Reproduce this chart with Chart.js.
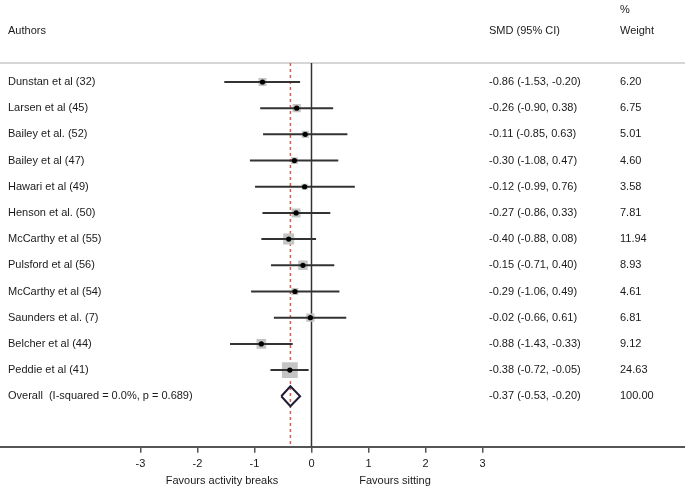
<!DOCTYPE html>
<html>
<head>
<meta charset="utf-8">
<script src="https://cdn.jsdelivr.net/npm/chart.js@4.4.1/dist/chart.umd.min.js"></script>
<style>
  html, body { margin: 0; padding: 0; background: #fff; }
  canvas { display: block; }
</style>
</head>
<body>
<canvas id="forest" width="685" height="489"></canvas>
<script>
// study data
const authors = [
  'Dunstan et al (32)', 'Larsen et al (45)', 'Bailey et al. (52)', 'Bailey et al (47)',
  'Hawari et al (49)', 'Henson et al. (50)', 'McCarthy et al (55)', 'Pulsford et al (56)',
  'McCarthy et al (54)', 'Saunders et al. (7)', 'Belcher et al (44)', 'Peddie et al (41)'
];
const smd = [-0.86, -0.26, -0.11, -0.30, -0.12, -0.27, -0.40, -0.15, -0.29, -0.02, -0.88, -0.38];
const lower = [-1.53, -0.90, -0.85, -1.08, -0.99, -0.86, -0.88, -0.71, -1.06, -0.66, -1.43, -0.72];
const upper = [-0.20, 0.38, 0.63, 0.47, 0.76, 0.33, 0.08, 0.40, 0.49, 0.61, -0.33, -0.05];
const weights = [6.20, 6.75, 5.01, 4.60, 3.58, 7.81, 11.94, 8.93, 4.61, 6.81, 9.12, 24.63];

const overallLabel = 'Overall  (I-squared = 0.0%, p = 0.689)';
const overallSmd = -0.37;
const overallLower = -0.53;
const overallUpper = -0.20;
const overallWeight = 100.00;

const xTicks = [-3, -2, -1, 0, 1, 2, 3];

const FONT = '11px "Liberation Sans", Arial, Helvetica, sans-serif';
const TEXT = '#1a1a1a';
const rows = authors.map((_, i) => i + 1);
const overallRow = authors.length + 1;
const Y_MIN = 0.275, Y_MAX = 14.93;

const fmt = v => v.toFixed(2);

// confidence interval lines, one dataset per study
const ciSets = rows.map((r, i) => ({
  type: 'line',
  data: [{ x: lower[i], y: r }, { x: upper[i], y: r }],
  borderColor: '#333',
  borderWidth: 2,
  pointRadius: 0,
  order: 2
}));

const diamondH = 0.38;

const textPlugin = {
  id: 'forestText',
  beforeDatasetsDraw(chart) {
    const ctx = chart.ctx;
    ctx.save();
    ctx.strokeStyle = '#d6d6d6';
    ctx.lineWidth = 2;
    ctx.beginPath();
    ctx.moveTo(0, chart.chartArea.top);
    ctx.lineTo(chart.width, chart.chartArea.top);
    ctx.stroke();
    ctx.restore();
  },
  afterDraw(chart) {
    const ctx = chart.ctx;
    const y = chart.scales.y;
    ctx.save();
    ctx.font = FONT;
    ctx.fillStyle = TEXT;
    ctx.textBaseline = 'middle';
    ctx.textAlign = 'left';

    // header
    ctx.fillText('Authors', 8, 31);
    ctx.fillText('SMD (95% CI)', 489, 31);
    ctx.fillText('%', 620, 10);
    ctx.fillText('Weight', 620, 31);

    rows.forEach((r, i) => {
      const py = y.getPixelForValue(r);
      ctx.fillText(authors[i], 8, py);
      ctx.fillText(`${fmt(smd[i])} (${fmt(lower[i])}, ${fmt(upper[i])})`, 489, py);
      ctx.fillText(fmt(weights[i]), 620, py);
    });
    const oy = y.getPixelForValue(overallRow);
    ctx.fillText(overallLabel, 8, oy);
    ctx.fillText(`${fmt(overallSmd)} (${fmt(overallLower)}, ${fmt(overallUpper)})`, 489, oy);
    ctx.fillText(fmt(overallWeight), 620, oy);

    // favours labels under the axis
    ctx.textAlign = 'center';
    ctx.fillText('Favours activity breaks', 222, 481);
    ctx.fillText('Favours sitting', 395, 481);
    ctx.restore();
  }
};

new Chart(document.getElementById('forest'), {
  type: 'scatter',
  data: {
    datasets: [
      // null line
      {
        type: 'line',
        data: [{ x: 0, y: Y_MIN }, { x: 0, y: Y_MAX }],
        borderColor: '#333',
        borderWidth: 1.5,
        pointRadius: 0,
        order: 5
      },
      // overall effect, dashed
      {
        type: 'line',
        data: [{ x: overallSmd, y: Y_MIN }, { x: overallSmd, y: Y_MAX }],
        borderColor: '#c0675c',
        borderWidth: 1.5,
        borderDash: [3, 3],
        pointRadius: 0,
        order: 4
      },
      // weight boxes
      {
        data: rows.map((r, i) => ({ x: smd[i], y: r })),
        pointStyle: 'rect',
        pointRadius: weights.map(w => 2.25 * Math.sqrt(w)),
        backgroundColor: '#c4c4c4',
        borderWidth: 0,
        order: 3
      },
      ...ciSets,
      // point estimates
      {
        data: rows.map((r, i) => ({ x: smd[i], y: r })),
        pointRadius: 2.6,
        backgroundColor: '#000',
        borderWidth: 0,
        order: 1
      },
      // pooled diamond
      {
        type: 'line',
        data: [
          { x: overallLower, y: overallRow },
          { x: overallSmd, y: overallRow - diamondH },
          { x: overallUpper, y: overallRow },
          { x: overallSmd, y: overallRow + diamondH },
          { x: overallLower, y: overallRow }
        ],
        borderColor: '#1e1e38',
        borderWidth: 2,
        borderJoinStyle: 'miter',
        pointRadius: 0,
        fill: false,
        order: 0
      }
    ]
  },
  options: {
    responsive: false,
    animation: false,
    layout: { autoPadding: false, padding: { top: 63, left: 0, right: 0, bottom: 13 } },
    plugins: { legend: { display: false }, tooltip: { enabled: false } },
    scales: {
      x: {
        type: 'linear',
        min: -5.465,
        max: 6.553,
        afterBuildTicks: scale => { scale.ticks = xTicks.map(v => ({ value: v })); },
        // let the axis run edge to edge
        afterFit: scale => { scale.paddingLeft = 0; scale.paddingRight = 0; },
        grid: { drawOnChartArea: false, drawTicks: true, tickLength: 6, color: '#555', lineWidth: 1.5 },
        border: { display: true, color: '#555', width: 2 },
        ticks: {
          color: TEXT,
          padding: 5,
          font: { family: '"Liberation Sans", Arial, Helvetica, sans-serif', size: 11 },
          callback: v => String(v)
        }
      },
      y: {
        type: 'linear',
        reverse: true,
        min: Y_MIN,
        max: Y_MAX,
        display: false
      }
    }
  },
  plugins: [textPlugin]
});
</script>
</body>
</html>
